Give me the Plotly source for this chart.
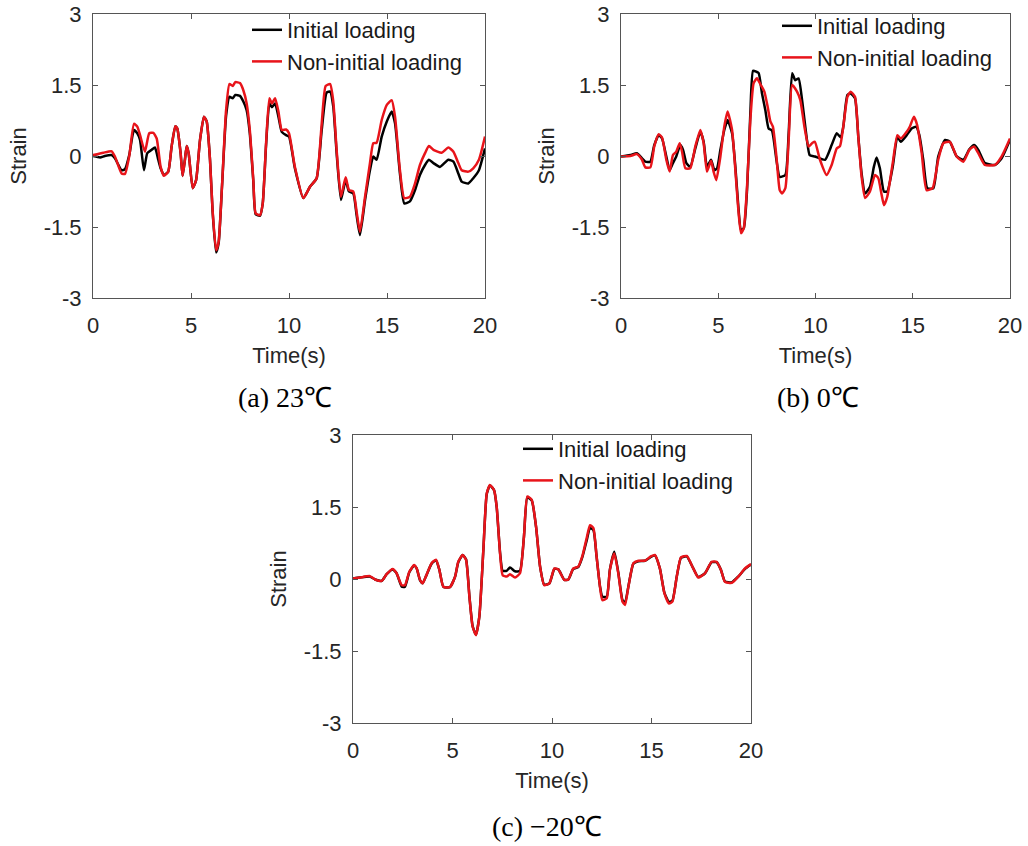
import plotly.graph_objects as go

# ---------------- data ----------------
# Panel (a) 23 C
a_red_t = [0, 0.53, 0.95, 1.12, 1.46, 1.63, 1.85, 2.09, 2.26, 2.4, 2.65, 2.87, 3.08, 3.25, 3.45, 3.62, 3.84, 4.01, 4.2, 4.3,
           4.47, 4.57, 4.69, 4.78, 4.88, 5.09, 5.26, 5.46, 5.66, 5.8, 5.97, 6.1, 6.28, 6.41, 6.58, 6.79, 6.96, 7.13, 7.26, 7.5,
           7.67, 7.84, 8.0, 8.18, 8.3, 8.52, 8.66, 8.83, 9.0, 9.13, 9.29, 9.46, 9.63, 9.85, 10.0, 10.3, 10.73, 11.07, 11.41, 11.67,
           11.87, 12.1, 12.26, 12.43, 12.65, 12.89, 13.06, 13.28, 13.45, 13.62, 13.88, 14.13, 14.3, 14.47, 14.73, 14.99, 15.24, 15.41, 15.66, 15.88,
           16.17, 16.43, 16.68, 16.94, 17.14, 17.37, 17.79, 18.13, 18.39, 18.64, 18.81, 19.15, 19.4, 19.69, 20]
a_red_v = [0.02, 0.07, 0.1, -0.01, -0.37, -0.38, 0, 0.68, 0.62, 0.44, 0.09, 0.48, 0.49, 0.37, -0.23, -0.42, -0.33, 0.2, 0.63, 0.58,
           0.06, -0.42, -0.08, 0.21, 0.06, -0.68, -0.51, 0.34, 0.83, 0.73, -0.08, -1.14, -1.99, -1.81, -0.65, 0.97, 1.52, 1.48, 1.56, 1.54,
           1.39, 1.11, 0.55, -0.51, -1.21, -1.25, -1.0, 0.27, 1.22, 1.11, 1.22, 0.94, 0.55, 0.56, 0.48, -0.23, -0.89, -0.65, -0.47, 0.69,
           1.48, 1.52, 1.15, 0.13, -0.86, -0.45, -0.72, -0.75, -1.18, -1.6, -0.86, -0.15, 0.27, 0.28, 0.76, 1.08, 1.18, 0.83, -0.3, -0.89,
           -0.86, -0.58, -0.19, 0.06, 0.21, 0.13, 0.07, 0.18, 0.09, -0.15, -0.3, -0.33, -0.26, -0.08, 0.41]
a_blk_t = [0, 0.36, 0.6, 0.95, 1.12, 1.46, 1.63, 1.85, 2.09, 2.26, 2.4, 2.6, 2.77, 2.99, 3.16, 3.33, 3.45, 3.62, 3.84, 4.01,
           4.2, 4.3, 4.47, 4.57, 4.69, 4.78, 4.88, 5.09, 5.26, 5.46, 5.66, 5.8, 5.97, 6.1, 6.28, 6.41, 6.58, 6.79, 6.96, 7.13,
           7.26, 7.5, 7.67, 7.84, 8.0, 8.18, 8.3, 8.52, 8.66, 8.83, 9.0, 9.13, 9.29, 9.46, 9.63, 9.85, 10.0, 10.3, 10.73, 11.07,
           11.41, 11.67, 11.92, 12.1, 12.26, 12.43, 12.65, 12.89, 13.06, 13.28, 13.45, 13.62, 13.88, 14.13, 14.3, 14.47, 14.73, 14.99, 15.24, 15.41,
           15.66, 15.88, 16.17, 16.43, 16.68, 16.94, 17.14, 17.37, 17.7, 18.13, 18.39, 18.64, 18.81, 19.15, 19.4, 19.69, 20]
a_blk_v = [0, -0.03, 0, 0.02, -0.05, -0.3, -0.28, 0.02, 0.55, 0.48, 0.34, -0.3, 0.06, 0.13, 0.18, -0.08, -0.26, -0.4, -0.33, 0.2,
           0.63, 0.58, 0.06, -0.42, -0.08, 0.21, 0.06, -0.68, -0.51, 0.34, 0.83, 0.73, -0.08, -1.16, -2.04, -1.84, -0.66, 0.85, 1.25, 1.22,
           1.29, 1.27, 1.15, 0.97, 0.48, -0.54, -1.23, -1.26, -1.0, 0.23, 1.11, 1.03, 1.11, 0.83, 0.51, 0.44, 0.41, -0.26, -0.89, -0.65,
           -0.47, 0.55, 1.34, 1.36, 1.04, 0.06, -0.93, -0.51, -0.75, -0.79, -1.25, -1.67, -0.93, -0.3, -0.01, -0.08, 0.41, 0.73, 0.94, 0.69,
           -0.37, -1.0, -0.96, -0.72, -0.4, -0.19, -0.08, -0.15, -0.23, -0.08, -0.12, -0.37, -0.54, -0.58, -0.47, -0.3, 0.16]

# Panel (b) 0 C
b_red_t = [0, 0.48, 0.82, 1.08, 1.25, 1.51, 1.71, 1.94, 2.11, 2.33, 2.5, 2.67, 2.84, 3.02, 3.14, 3.31, 3.56, 3.82, 4.08, 4.25,
           4.42, 4.63, 4.76, 4.9, 5.11, 5.31, 5.48, 5.71, 5.88, 6.02, 6.17, 6.31, 6.48, 6.65, 6.82, 6.99, 7.16, 7.37, 7.54, 7.68,
           7.81, 7.99, 8.16, 8.28, 8.45, 8.62, 8.8, 9.05, 9.22, 9.43, 9.65, 9.85, 9.97, 10.23, 10.57, 10.83, 11.09, 11.26, 11.43, 11.64,
           11.81, 12.03, 12.2, 12.37, 12.55, 12.8, 13.06, 13.23, 13.4, 13.52, 13.69, 13.97, 14.21, 14.38, 14.69, 14.86, 15.06, 15.23, 15.46, 15.71,
           16.02, 16.31, 16.57, 16.91, 17.26, 17.6, 17.91, 18.15, 18.37, 18.71, 19.23, 19.57, 20]
b_red_v = [-0.01, 0, 0.04, -0.08, -0.24, -0.24, 0.2, 0.46, 0.39, -0.08, -0.33, 0.02, 0.09, 0.27, 0.09, -0.26, -0.26, 0.2, 0.55, 0.27,
           -0.33, -0.1, -0.33, -0.51, -0.01, 0.62, 0.94, 0.55, -0.3, -1.07, -1.63, -1.53, -0.65, 0.76, 1.54, 1.64, 1.52, 1.36, 1.04, 0.73,
           0.62, -0.01, -0.72, -0.79, -0.68, 0.34, 1.5, 1.36, 1.18, 0.62, 0.2, 0.28, 0.3, -0.08, -0.4, -0.19, 0.16, 0.21, 0.62, 1.25,
           1.36, 1.25, 0.41, -0.44, -0.89, -0.75, -0.4, -0.47, -0.82, -1.04, -0.86, -0.15, 0.44, 0.37, 0.51, 0.63, 0.83, 0.65, 0.06, -0.72,
           -0.68, -0.08, 0.27, 0.3, -0.01, -0.12, 0.13, 0.2, 0.06, -0.19, -0.19, -0.01, 0.37]
b_blk_t = [0, 0.48, 0.82, 1.08, 1.25, 1.51, 1.71, 1.94, 2.11, 2.33, 2.5, 2.67, 2.84, 3.05, 3.19, 3.36, 3.56, 3.82, 4.08, 4.25,
           4.42, 4.63, 4.8, 4.94, 5.11, 5.31, 5.48, 5.71, 5.88, 6.02, 6.17, 6.31, 6.48, 6.65, 6.79, 6.96, 7.08, 7.25, 7.42, 7.59,
           7.76, 7.99, 8.16, 8.45, 8.62, 8.8, 8.96, 9.13, 9.31, 9.56, 9.7, 9.97, 10.49, 10.83, 11.09, 11.3, 11.43, 11.64, 11.81, 12.03,
           12.2, 12.37, 12.55, 12.8, 13.0, 13.14, 13.31, 13.52, 13.69, 13.97, 14.21, 14.38, 14.69, 14.94, 15.17, 15.34, 15.54, 15.75, 16.06, 16.31,
           16.66, 16.91, 17.26, 17.6, 17.91, 18.15, 18.37, 18.71, 19.23, 19.57, 20]
b_blk_v = [-0.01, 0.02, 0.06, -0.05, -0.12, -0.12, 0.23, 0.44, 0.37, -0.01, -0.3, -0.15, -0.01, 0.23, 0.13, -0.15, -0.23, 0.16, 0.51, 0.3,
           -0.23, -0.08, -0.3, -0.26, 0.13, 0.55, 0.76, 0.48, -0.23, -1.0, -1.56, -1.53, -0.72, 0.9, 1.8, 1.78, 1.75, 1.32, 0.97, 0.58,
           0.54, -0.08, -0.44, -0.4, 0.48, 1.75, 1.6, 1.64, 1.18, 0.34, 0.02, -0.01, -0.08, 0.23, 0.48, 0.39, 0.62, 1.29, 1.32, 1.22,
           0.41, -0.37, -0.79, -0.65, -0.23, -0.03, -0.26, -0.75, -0.75, -0.23, 0.41, 0.3, 0.44, 0.58, 0.62, 0.44, -0.08, -0.68, -0.68, -0.01,
           0.34, 0.3, -0.01, -0.08, 0.14, 0.23, 0.13, -0.15, -0.19, -0.05, 0.34]

# Panel (c) -20 C
c_t = [0, 0.35, 0.85, 1.11, 1.44, 1.69, 1.99, 2.19, 2.45, 2.61, 2.83, 3.07, 3.2, 3.37, 3.5, 3.67, 3.95, 4.17, 4.34, 4.54,
       4.87, 5.13, 5.29, 5.51, 5.68, 5.85, 6.01, 6.18, 6.35, 6.55, 6.72, 6.88, 7.09, 7.22, 7.39, 7.52, 7.72, 7.89, 8.14, 8.39,
       8.59, 8.76, 8.98, 9.2, 9.4, 9.61, 9.87, 10.12, 10.32, 10.62, 10.82, 11.07, 11.32, 11.52, 11.74, 11.91, 12.08, 12.24, 12.41, 12.53,
       12.75, 12.91, 13.13, 13.33, 13.54, 13.67, 13.84, 14.09, 14.34, 14.67, 14.97, 15.17, 15.42, 15.65, 15.88, 16.05, 16.27, 16.48, 16.77, 17.1,
       17.35, 17.69, 18.02, 18.27, 18.49, 18.69, 19.03, 19.36, 19.7, 20]
c_red_v = [0.01, 0.03, 0.06, -0.01, -0.04, 0.1, 0.21, 0.12, -0.13, -0.13, 0.15, 0.29, 0.22, -0.02, -0.09, 0.06, 0.33, 0.4, 0.19, -0.16,
           -0.17, 0.05, 0.36, 0.5, 0.4, -0.37, -0.99, -1.17, -0.78, 0.6, 1.78, 1.96, 1.85, 1.51, 0.53, 0.08, 0.05, 0.1, 0.03, 0.12,
           0.88, 1.72, 1.65, 1.09, 0.26, -0.13, -0.09, 0.22, 0.2, -0.02, -0.01, 0.22, 0.26, 0.47, 0.85, 1.12, 1.06, 0.47, -0.16, -0.44,
           -0.4, 0.19, 0.53, 0.12, -0.47, -0.54, -0.16, 0.33, 0.38, 0.38, 0.47, 0.5, 0.22, -0.3, -0.51, -0.47, 0.05, 0.45, 0.48, 0.22,
           0.03, 0.12, 0.36, 0.36, 0.19, -0.06, -0.08, 0.05, 0.22, 0.31]
c_blk_v = [0.01, 0.03, 0.05, -0.01, -0.04, 0.1, 0.2, 0.12, -0.16, -0.16, 0.14, 0.28, 0.22, -0.03, -0.09, 0.06, 0.32, 0.39, 0.19, -0.16,
           -0.17, 0.05, 0.35, 0.5, 0.41, -0.36, -0.98, -1.16, -0.78, 0.6, 1.77, 1.95, 1.85, 1.5, 0.55, 0.17, 0.17, 0.24, 0.16, 0.17,
           0.88, 1.7, 1.64, 1.08, 0.26, -0.12, -0.09, 0.21, 0.2, -0.02, -0.01, 0.21, 0.25, 0.45, 0.8, 1.06, 1.02, 0.47, -0.15, -0.37,
           -0.37, 0.2, 0.57, 0.14, -0.44, -0.5, -0.15, 0.32, 0.37, 0.38, 0.46, 0.49, 0.22, -0.29, -0.48, -0.45, 0.05, 0.44, 0.47, 0.22,
           0.04, 0.12, 0.35, 0.35, 0.19, -0.05, -0.07, 0.05, 0.21, 0.3]

series_names = ["Initial loading", "Non-initial loading"]
captions = ["(a) 23\u2103", "(b) 0\u2103", "(c) \u221220\u2103"]
x_ticks = [0, 5, 10, 15, 20]
y_ticks = [-3, -1.5, 0, 1.5, 3]
y_ticktext = ["-3", "-1.5", "0", "1.5", "3"]

BLACK = "#000000"
RED = "#e8141a"
W, H = 1028, 846

fig = go.Figure()

panels = [
    (a_blk_t, a_blk_v, a_red_t, a_red_v, "x", "y", "legend"),
    (b_blk_t, b_blk_v, b_red_t, b_red_v, "x2", "y2", "legend2"),
    (c_t, c_blk_v, c_t, c_red_v, "x3", "y3", "legend3"),
]
for bt, bv, rt, rv, xa, ya, lg in panels:
    fig.add_trace(go.Scatter(x=bt, y=bv, mode="lines", name=series_names[0],
                             line=dict(color=BLACK, width=2.5, shape="spline", smoothing=0.5),
                             xaxis=xa, yaxis=ya, legend=lg))
    fig.add_trace(go.Scatter(x=rt, y=rv, mode="lines", name=series_names[1],
                             line=dict(color=RED, width=2.5, shape="spline", smoothing=0.5),
                             xaxis=xa, yaxis=ya, legend=lg))

# pixel boxes of the three plot areas: (left, right, top, bottom)
boxes = [(93, 485, 14, 298), (621, 1010, 14, 298), (353, 751, 435, 723)]

tick_font = dict(family="Liberation Sans, Arial, sans-serif", size=22, color="#262626")
axis_common = dict(showgrid=False, zeroline=False, showline=True, linecolor="#555555", linewidth=1,
                   mirror="ticks", ticks="inside", ticklen=5, tickcolor="#555555", tickfont=tick_font,
                   automargin=False)

layout = dict(width=W, height=H, margin=dict(l=0, r=0, t=0, b=0, pad=0, autoexpand=False),
              paper_bgcolor="white", plot_bgcolor="white", showlegend=True)

suffix = ["", "2", "3"]
for i, (l, r, t, b) in enumerate(boxes):
    s = suffix[i]
    layout["xaxis" + s] = dict(axis_common, domain=[l / W, r / W], range=[0, 20], tickvals=x_ticks,
                               anchor="y" + s, ticklabelstandoff=8,
                               title=dict(text="Time(s)", font=tick_font, standoff=10))
    layout["yaxis" + s] = dict(axis_common, domain=[1 - b / H, 1 - t / H], range=[-3, 3], tickvals=y_ticks,
                               ticktext=y_ticktext, anchor="x" + s, ticklabelstandoff=6,
                               title=dict(text="Strain", font=tick_font, standoff=10))

legend_pos = [(247, 9), (777, 5), (518, 428)]
for i, (lx, ty) in enumerate(legend_pos):
    layout["legend" + suffix[i]] = dict(x=lx / W, y=1 - ty / H, xanchor="left", yanchor="top",
                                        bgcolor="rgba(0,0,0,0)", borderwidth=0, tracegroupgap=0,
                                        font=dict(family="Liberation Sans, Arial, sans-serif", size=22, color="#1a1a1a"))

fig.update_layout(**layout)

cap_pos = [(285, 397), (818, 397), (547, 826)]
for txt, (cx, cy) in zip(captions, cap_pos):
    fig.add_annotation(text=txt, x=cx / W, y=1 - cy / H, xref="paper", yref="paper", showarrow=False,
                       xanchor="center", yanchor="middle",
                       font=dict(family="Liberation Serif, Times New Roman, serif", size=28, color="black"))

fig.write_html("out.html")
